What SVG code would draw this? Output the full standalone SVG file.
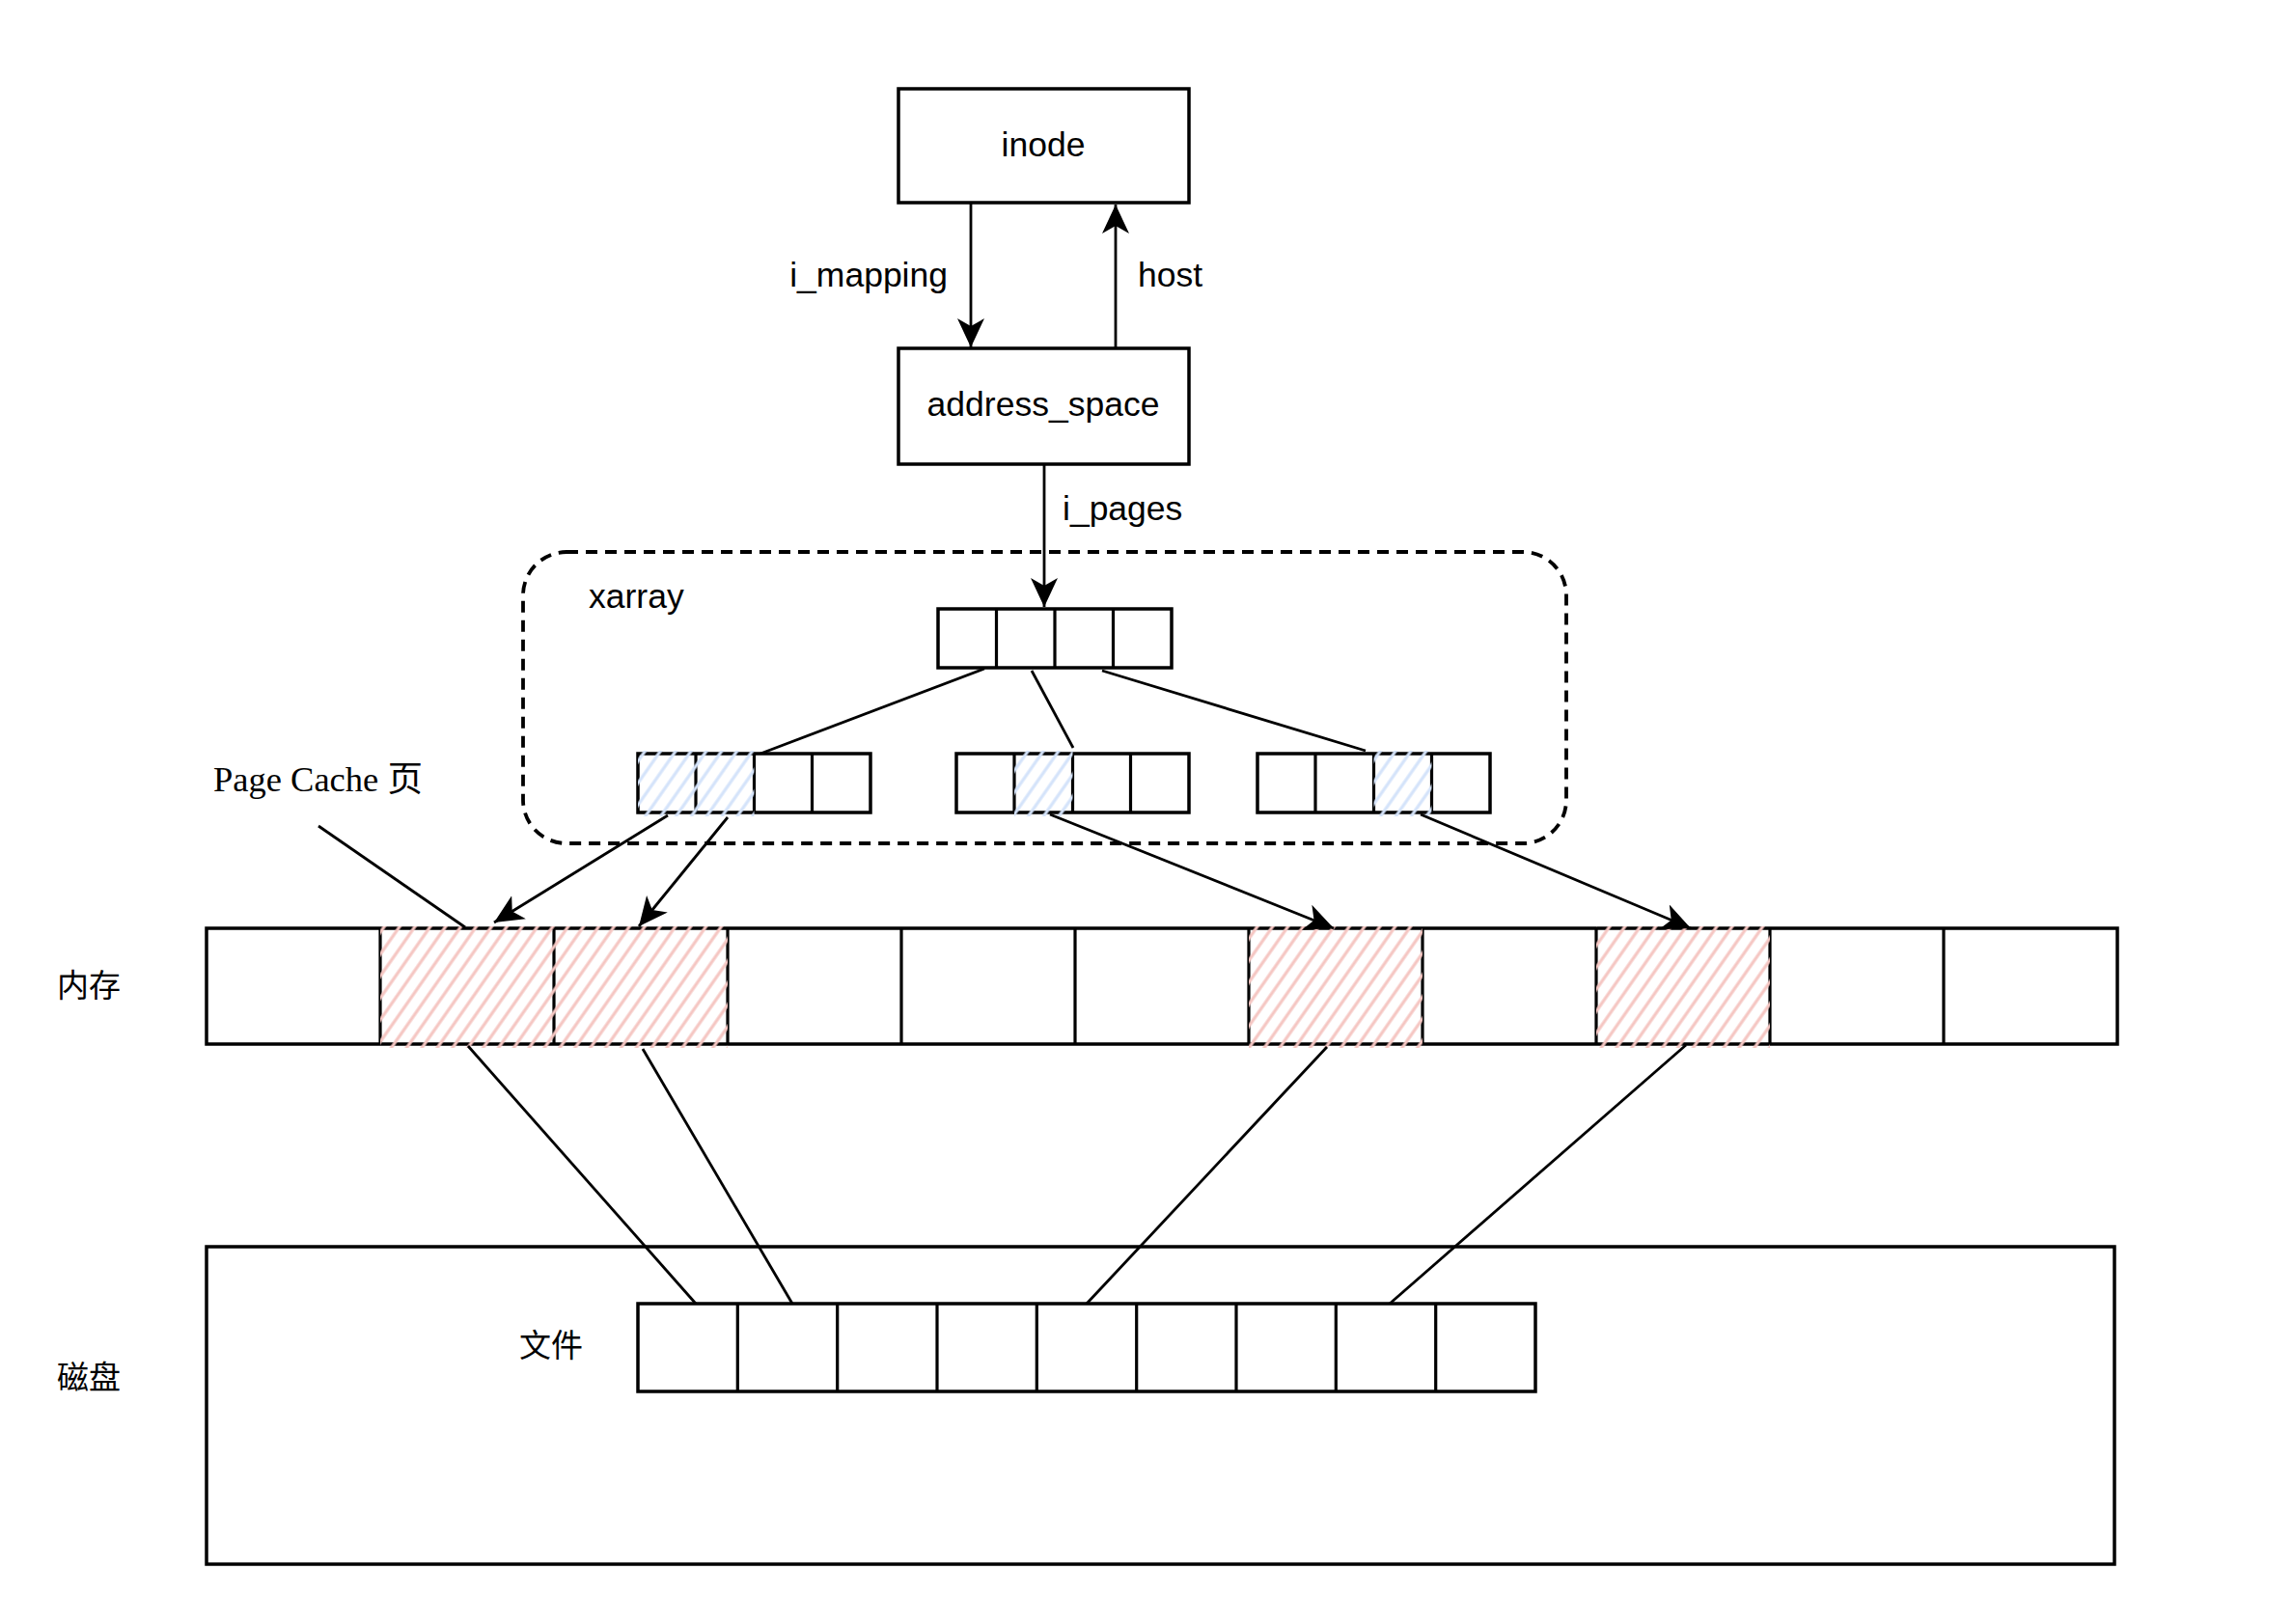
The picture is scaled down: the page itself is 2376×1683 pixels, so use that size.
<svg xmlns="http://www.w3.org/2000/svg" width="2376" height="1683" viewBox="0 0 2376 1683">
<style>
.box{fill:#fff;stroke:#000;stroke-width:3.5}
.div{stroke:#000;stroke-width:3.2;fill:none}
.conn{stroke:#000;stroke-width:2.8;fill:none}
.arr{marker-end:url(#ah)}
.lbl{font-family:"Liberation Sans",Arial,Helvetica,sans-serif;font-size:35.5px;fill:#000}
.cjk{font-family:"Noto Sans CJK SC","Noto Sans CJK JP",sans-serif;font-size:33px;fill:#000}
.serif{font-family:"Liberation Serif","Noto Sans CJK SC",serif;font-size:36.5px;fill:#000}
.red{fill:url(#hRed);stroke:none}
.blue{fill:url(#hBlue);stroke:none}
</style>
<defs>
<marker id="ah" markerUnits="userSpaceOnUse" markerWidth="32" markerHeight="32" viewBox="0 0 32 32" refX="30" refY="16" orient="auto">
<path d="M0,2 L30,16 L0,30 L8,16 Z" fill="#000"/>
</marker>
<pattern id="hRed" patternUnits="userSpaceOnUse" width="13" height="13" patternTransform="rotate(35)">
<line x1="6" y1="0" x2="6" y2="13" stroke="#f5c6c2" stroke-width="3.2"/>
</pattern>
<pattern id="hBlue" patternUnits="userSpaceOnUse" width="13" height="13" patternTransform="rotate(35)">
<line x1="6" y1="0" x2="6" y2="13" stroke="#d4e3fa" stroke-width="3.2"/>
</pattern>
</defs>
<rect width="2376" height="1683" fill="#fff"/>

<g id="xarray-container">
<rect x="542" y="572" width="1081" height="302" rx="45" ry="45" fill="none" stroke="#000" stroke-width="3.8" stroke-dasharray="12 8"/>
<text class="lbl" x="610" y="630">xarray</text>
</g>

<g id="inode">
<rect class="box" x="931" y="92" width="301" height="118"/>
<text class="lbl" x="1081" y="162" text-anchor="middle">inode</text>
</g>

<g id="address_space">
<rect class="box" x="931" y="361" width="301" height="120"/>
<text class="lbl" x="1081" y="431" text-anchor="middle">address_space</text>
</g>

<g id="xa-root">
<rect class="box" x="972" y="631" width="242" height="61"/>
<path class="div" d="M1032.5,631V692M1093,631V692M1153.5,631V692"/>
</g>

<g id="xa-left">
<rect class="box" x="661" y="781" width="241" height="61"/>
<path class="div" d="M721,781V842M781.5,781V842M841.5,781V842"/>
<rect class="blue" x="661" y="778" width="120.5" height="68"/>
</g>

<g id="xa-mid">
<rect class="box" x="991" y="781" width="241" height="61"/>
<path class="div" d="M1051,781V842M1111.5,781V842M1171.5,781V842"/>
<rect class="blue" x="1051" y="778" width="60.5" height="68"/>
</g>

<g id="xa-right">
<rect class="box" x="1303" y="781" width="241" height="61"/>
<path class="div" d="M1363,781V842M1423.5,781V842M1483.5,781V842"/>
<rect class="blue" x="1423.5" y="778" width="60" height="68"/>
</g>

<g id="memory">
<rect class="box" x="214" y="962" width="1980" height="120"/>
<path class="div" d="M394,962V1082M574,962V1082M754,962V1082M934,962V1082M1114,962V1082M1294,962V1082M1474,962V1082M1654,962V1082M1834,962V1082M2014,962V1082"/>
<rect class="red" x="394" y="960" width="360" height="126"/>
<rect class="red" x="1294" y="960" width="180" height="126"/>
<rect class="red" x="1654" y="960" width="180" height="126"/>
</g>

<g id="disk">
<rect class="box" x="214" y="1292" width="1977" height="329"/>
</g>

<g id="file">
<rect class="box" x="661" y="1351" width="930" height="91"/>
<path class="div" d="M764.3,1351V1442M867.7,1351V1442M971,1351V1442M1074.3,1351V1442M1177.7,1351V1442M1281,1351V1442M1384.3,1351V1442M1487.7,1351V1442"/>
<text class="cjk" x="571" y="1406" text-anchor="middle">文件</text>
</g>

<g id="labels">
<text class="cjk" x="92" y="1033" text-anchor="middle">内存</text>
<text class="cjk" x="92" y="1439" text-anchor="middle">磁盘</text>
<text class="serif" x="221" y="820">Page Cache 页</text>
<text class="lbl" x="982" y="297" text-anchor="end">i_mapping</text>
<text class="lbl" x="1179" y="297">host</text>
<text class="lbl" x="1101" y="539">i_pages</text>
</g>

<g id="connectors">
<line class="conn arr" x1="1006" y1="211" x2="1006" y2="360"/>
<line class="conn arr" x1="1156" y1="361" x2="1156" y2="212"/>
<line class="conn arr" x1="1082" y1="482" x2="1082" y2="629"/>
<line class="conn" x1="1020" y1="693" x2="788" y2="781"/>
<line class="conn" x1="1069" y1="695" x2="1112" y2="775"/>
<line class="conn" x1="1142" y1="695" x2="1415" y2="778"/>
<line class="conn arr" x1="692" y1="845" x2="512" y2="956"/>
<line class="conn arr" x1="754" y1="847" x2="662" y2="960"/>
<line class="conn arr" x1="1088" y1="844" x2="1382" y2="962"/>
<line class="conn arr" x1="1472" y1="844" x2="1752" y2="962"/>
<line class="conn" x1="330" y1="856" x2="482" y2="961"/>
<line class="conn" x1="485" y1="1084" x2="721" y2="1351"/>
<line class="conn" x1="666" y1="1087" x2="821" y2="1351"/>
<line class="conn" x1="1375" y1="1085" x2="1126" y2="1351"/>
<line class="conn" x1="1747" y1="1083" x2="1440" y2="1351"/>
</g>
</svg>
